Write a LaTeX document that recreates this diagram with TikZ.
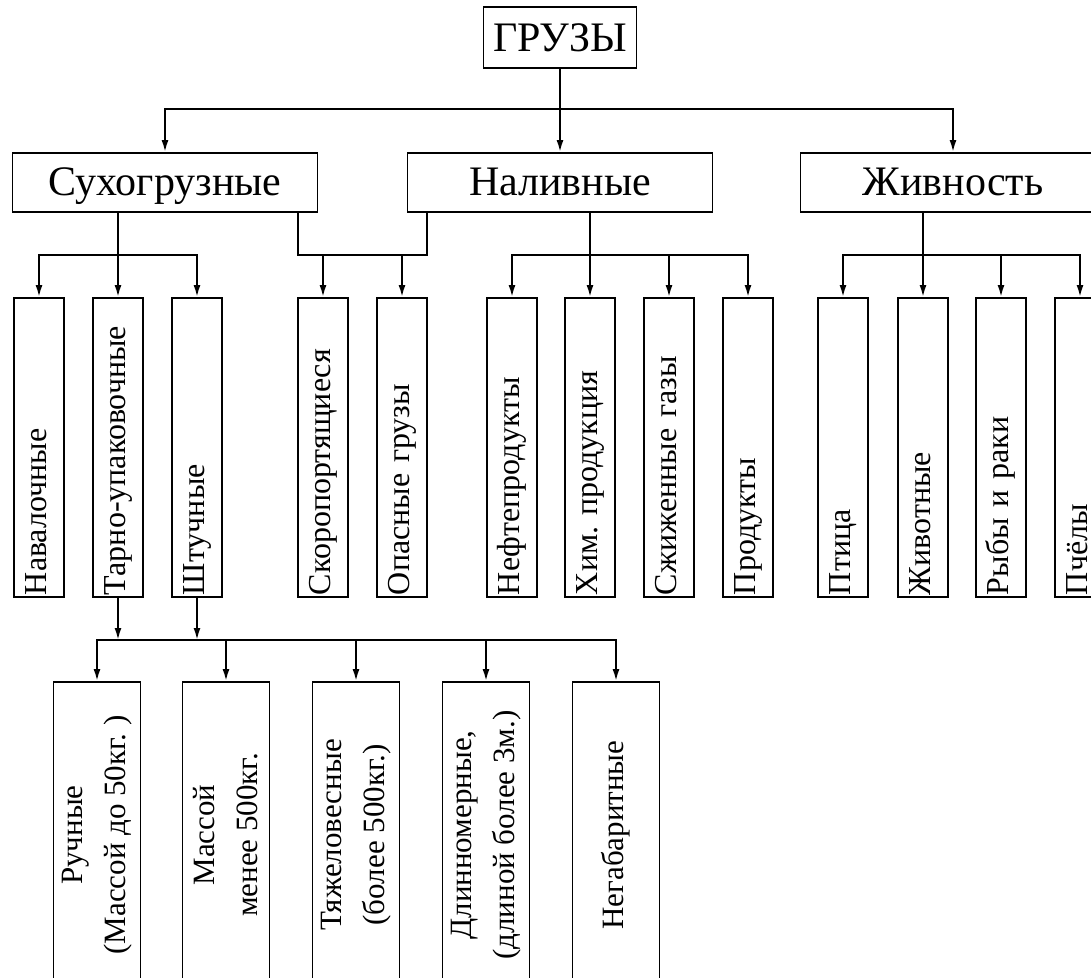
\documentclass[tikz,border=0pt]{standalone}
\usepackage{fontspec}
\setmainfont{Liberation Serif}
\newfontfamily\tnr{Liberation Serif}
\usepackage{tikz}
\usetikzlibrary{arrows.meta}

\begin{document}
\begin{tikzpicture}[x=1pt,y=-1pt,
  box/.style={draw,line width=1.9pt,inner sep=0pt,fill=white},
  head/.style={box,minimum width=305pt,minimum height=59pt,text height=31pt,text depth=5pt,font=\tnr\fontsize{42}{48}\selectfont},
  leaf/.style={box,rotate=90,minimum width=299pt,minimum height=50pt,text width=295pt,text height=22pt,text depth=7pt,align=left,font=\tnr\fontsize{32}{36}\selectfont},
  low/.style={box,rotate=90,minimum width=306pt,minimum height=87pt,align=center,font=\tnr\fontsize{31}{43}\selectfont},
  con/.style={line width=1.9pt},
  arr/.style={con,-{Latex[length=12pt,width=7pt]}}]
\useasboundingbox (0,0) rectangle (1091,977);
\clip (0,0) rectangle (1091,977);

% Root
\node[box,minimum width=153pt,minimum height=61pt,font=\tnr\fontsize{42}{48}\selectfont] (gruz) at (560,37.5) {ГРУЗЫ};

% First level
\node[head] (suh) at (165,182.5) {Сухогрузные};
\node[head] (nal) at (560,182.5) {Наливные};
\node[head] (zhiv) at (953,182.5) {Живность};

% Second level (rotated: east is up, west is down)
\node[leaf] (nav) at (39,447.5) {Навалочные};
\node[leaf] (tar) at (118,447.5) {Тарно-упаковочные};
\node[leaf] (sht) at (197,447.5) {Штучные};
\node[leaf] (skr) at (323,447.5) {Скоропортящиеся};
\node[leaf] (opa) at (402,447.5) {Опасные грузы};
\node[leaf] (nef) at (512,447.5) {Нефтепродукты};
\node[leaf] (him) at (590,447.5) {Хим.\ продукция};
\node[leaf] (szh) at (669,447.5) {Сжиженные газы};
\node[leaf] (prd) at (748,447.5) {Продукты};
\node[leaf] (pti) at (843,447.5) {Птица};
\node[leaf] (zhv) at (923,447.5) {Животные};
\node[leaf] (ryb) at (1001,447.5) {Рыбы и раки};
\node[leaf] (pch) at (1080,447.5) {Пчёлы};

% Third level
\node[low] (ruc) at (97,835) {Ручные\\(Массой до 50кг.\ )};
\node[low] (mas) at (226,835) {Массой\\менее 500кг.};
\node[low] (tja) at (356,835) {Тяжеловесные\\(более 500кг.)};
\node[low] (dli) at (486,835) {Длинномерные,\\(длиной более 3м.)};
\node[low] (neg) at (616,835) {Негабаритные};

% Root to first level
\coordinate (b0) at (560,109);
\draw[con] (gruz.south) -- (b0);
\draw[arr] (b0) -| (suh.north);
\draw[arr] (b0) -- (nal.north);
\draw[arr] (b0) -| (zhiv.north);

% Сухогрузные
\coordinate (s1) at (118,255);
\draw[arr] (suh.south -| s1) -- (tar.east);
\draw[arr] (s1) -| (nav.east);
\draw[arr] (s1) -| (sht.east);

% shared branch
\coordinate (j1) at (298,255);
\coordinate (j2) at (427,255);
\draw[con] (suh.south -| j1) -- (j1) -- (j2) -- (nal.south -| j2);
\draw[arr] (skr.east |- j1) -- (skr.east);
\draw[arr] (opa.east |- j1) -- (opa.east);

% Наливные
\coordinate (n1) at (590,255);
\draw[arr] (nal.south -| n1) -- (him.east);
\draw[arr] (n1) -| (nef.east);
\draw[arr] (n1) -| (prd.east);
\draw[arr] (szh.east |- n1) -- (szh.east);

% Живность
\coordinate (z1) at (923,255);
\draw[arr] (zhiv.south -| z1) -- (zhv.east);
\draw[arr] (z1) -| (pti.east);
\draw[arr] (z1) -| (pch.east);
\draw[arr] (ryb.east |- z1) -- (ryb.east);

% Тарно-упаковочные and Штучные
\coordinate (b3) at (356,640);
\draw[arr] (tar.west) -- (tar.west |- b3);
\draw[arr] (sht.west) -- (sht.west |- b3);
\draw[arr] (b3) -| (ruc.east);
\draw[arr] (b3) -| (neg.east);
\draw[arr] (b3) -- (tja.east);
\draw[arr] (mas.east |- b3) -- (mas.east);
\draw[arr] (dli.east |- b3) -- (dli.east);
\end{tikzpicture}
\end{document}
